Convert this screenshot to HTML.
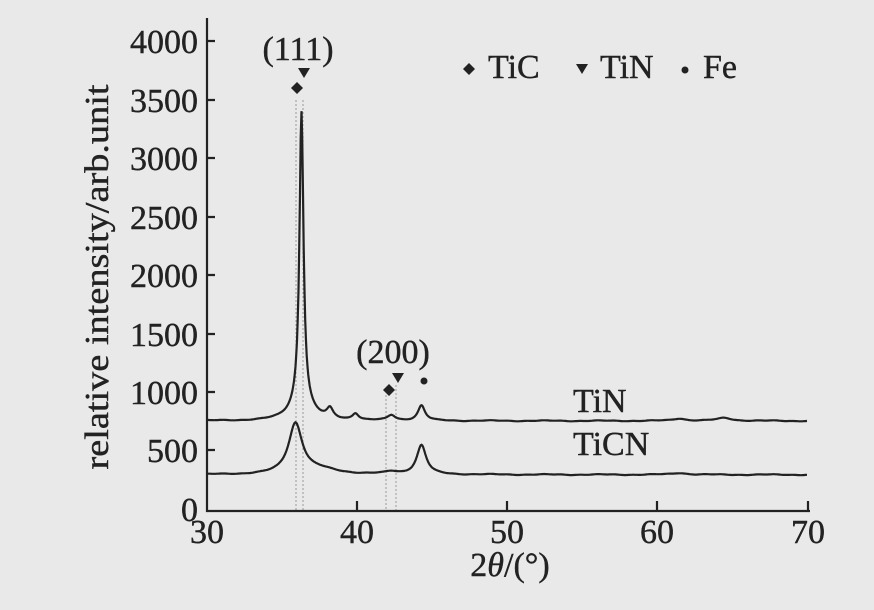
<!DOCTYPE html>
<html><head><meta charset="utf-8"><style>
html,body{margin:0;padding:0;background:#e9e9e9;}
svg{display:block;font-family:"Liberation Serif",serif;}
</style></head><body>
<svg id="s" width="874" height="610" viewBox="0 0 874 610" xmlns="http://www.w3.org/2000/svg">
<rect width="874" height="610" fill="#e9e9e9"/>
<g stroke="#999" stroke-width="1" stroke-dasharray="2,2">
<line x1="296" y1="100" x2="296" y2="511"/>
<line x1="303" y1="100" x2="303" y2="511"/>
<line x1="386" y1="395" x2="386" y2="511"/>
<line x1="396" y1="385" x2="396" y2="511"/>
</g>
<path id="tin" fill="none" stroke="#222" stroke-width="2.2"/>
<path id="ticn" fill="none" stroke="#222" stroke-width="2.2"/>
<g stroke="#222" stroke-width="2.2" fill="none">
<path d="M207 18 V511 H810"/>
<path d="M207 41h8M207 100h8M207 158h8M207 217h8M207 275h8M207 334h8M207 392h8M207 450h8"/>
<path d="M357 511v-10M507 511v-10M657 511v-10M808 511v-10"/>
</g>
<g font-size="34" fill="#222" text-anchor="end" stroke="#222" stroke-width="0.4">
<text x="198" y="53">4000</text><text x="198" y="112">3500</text><text x="198" y="170">3000</text>
<text x="198" y="229">2500</text><text x="198" y="287">2000</text><text x="198" y="346">1500</text>
<text x="198" y="404">1000</text><text x="198" y="462">500</text><text x="198" y="521">0</text>
</g>
<g font-size="34" fill="#222" text-anchor="middle" stroke="#222" stroke-width="0.4">
<text x="207" y="543">30</text><text x="357" y="543">40</text><text x="507" y="543">50</text>
<text x="657" y="543">60</text><text x="808" y="543">70</text>
<text x="510" y="576">2<tspan font-style="italic">θ</tspan>/(°)</text>
<text x="298" y="60">(111)</text>
<text x="393" y="363">(200)</text>
<text transform="translate(108,277) rotate(-90)" textLength="385" lengthAdjust="spacingAndGlyphs">relative intensity/arb.unit</text>
</g>
<g font-size="34" fill="#222" stroke="#222" stroke-width="0.4">
<text x="573" y="412">TiN</text>
<text x="573" y="455">TiCN</text>
<text x="488" y="78">TiC</text>
<text x="600" y="78">TiN</text>
<text x="703" y="78">Fe</text>
</g>
<g fill="#222">
<path d="M297 82l6 6-6 6-6-6z"/>
<path d="M298 68h12l-6 10z"/>
<path d="M389 384l6 6-6 6-6-6z"/>
<path d="M392 373h12l-6 10z"/>
<circle cx="424" cy="381" r="3.5"/>
<path d="M469 63l6 6-6 6-6-6z"/>
<path d="M576 64h12l-6 10z"/>
<circle cx="685" cy="70" r="3.5"/>
</g>
<script>
function X(t){return 207+(t-30)*15;}
function L(t,c,h,w){return h/(1+Math.pow((t-c)/w,2));}
function build(base,peaks){var d="";for(var t=30;t<=70.01;t+=0.05){var y=base;peaks.forEach(function(p){y+=L(t,p[0],p[1],p[2]);});y+=Math.sin(t*5.3)*1.5+Math.sin(t*1.7)*3;d+=(d?"L":"M")+X(t).toFixed(1)+" "+(511-y*0.117).toFixed(1);}return d;}
document.getElementById("tin").setAttribute("d",build(770,[[36.3,2500,0.16],[36.3,150,0.8],[38.2,80,0.25],[39.9,55,0.25],[42.3,45,0.3],[44.3,130,0.28],[61.5,20,0.5],[64.5,25,0.6]]));
document.getElementById("ticn").setAttribute("d",build(310,[[35.9,430,0.55],[37.5,40,1.5],[42.3,20,0.5],[44.3,250,0.38],[61.5,15,0.6]]));
</script>
</svg>
</body></html>
